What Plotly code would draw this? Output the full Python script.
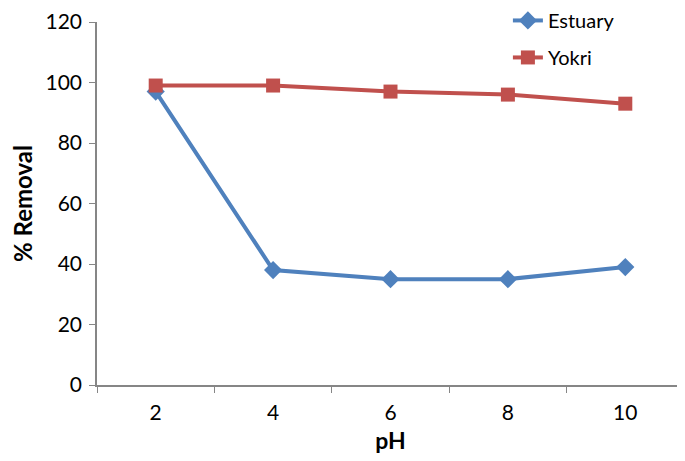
import plotly.graph_objects as go

# pH categories and % removal for each sample
ph = ['2', '4', '6', '8', '10']
estuary = [97, 38, 35, 35, 39]
yokri = [99, 99, 97, 96, 93]

fig = go.Figure()
fig.add_trace(go.Scatter(x=ph, y=estuary, name='Estuary', mode='lines+markers',
                         line=dict(color='#4F81BD', width=4),
                         marker=dict(symbol='diamond', size=14, color='#4F81BD'),
                         legendgroup='a'))
fig.add_trace(go.Scatter(x=ph, y=yokri, name='Yokri', mode='lines+markers',
                         line=dict(color='#C0504D', width=4),
                         marker=dict(symbol='square', size=14, color='#C0504D'),
                         legendgroup='b'))

# page body has an 8px default margin, so the figure is sized to fit
fig.update_layout(
    width=677, height=453,
    margin=dict(l=89, r=1, t=14, b=76, autoexpand=False),
    paper_bgcolor='white', plot_bgcolor='white',
    font=dict(family='Lato, Noto Sans, sans-serif', size=21, color='black'),
    showlegend=True,
    legend=dict(x=0.70, y=1.058, xanchor='left', yanchor='top',
                tracegroupgap=8, bgcolor='rgba(0,0,0,0)',
                font=dict(size=20)),
    xaxis=dict(type='category', range=[-0.5, 4.5], tickson='boundaries',
               ticks='outside', ticklen=6, tickcolor='#868686', showline=True,
               linecolor='#868686', linewidth=1.5, showgrid=False, zeroline=False,
               automargin=False, ticklabelstandoff=8,
               title=dict(text='<b>pH</b>', font=dict(size=23), standoff=10)),
    yaxis=dict(range=[0, 120], dtick=20, ticks='outside', ticklen=6,
               tickcolor='#868686', showline=True, linecolor='#868686',
               linewidth=1.5, showgrid=False, zeroline=False, automargin=True,
               ticklabelstandoff=3,
               title=dict(text='<b>% Removal</b>', font=dict(size=24), standoff=16)),
)

fig.write_html("out.html")
